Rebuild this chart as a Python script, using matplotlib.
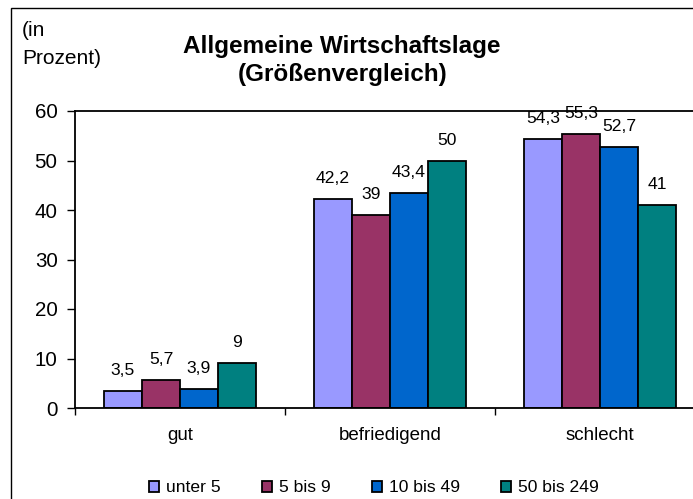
import numpy as np
import matplotlib.pyplot as plt
from matplotlib.patches import Rectangle

plt.rcParams['font.family'] = ['Liberation Sans', 'DejaVu Sans']

# Data
categories = ['gut', 'befriedigend', 'schlecht']
series_names = ['unter 5', '5 bis 9', '10 bis 49', '50 bis 249']
unter_5 = [3.5, 42.2, 54.3]
bis_9 = [5.7, 39, 55.3]
bis_49 = [3.9, 43.4, 52.7]
bis_249 = [9, 50, 41]
values = [unter_5, bis_9, bis_49, bis_249]
colors = ['#9999FF', '#993366', '#0066CC', '#008080']

fig = plt.figure(figsize=(6.93, 4.99), dpi=100)
ax = fig.add_axes([75 / 693, 1 - 408 / 499, 630 / 693, 297 / 499])

# outer chart border (cut off on right and bottom)
fig.patches.append(Rectangle((11 / 693, -0.1), 1.2, 1.1 - 8 / 499,
                             transform=fig.transFigure, fill=False,
                             edgecolor='black', linewidth=1.0))

x = np.arange(len(categories))
width = 0.181
for i, (vals, name, col) in enumerate(zip(values, series_names, colors)):
    pos = x + (i - 1.5) * width
    ax.bar(pos, vals, width, color=col, edgecolor='black', linewidth=1.3,
           label=name)
    for p, v in zip(pos, vals):
        lbl = ('%g' % v).replace('.', ',')
        ax.annotate(lbl, (p, v), xytext=(0, 11.5), textcoords='offset points',
                    ha='center', va='baseline', fontsize=12.6, clip_on=False)

ax.set_xlim(-0.5, 2.5)
ax.set_ylim(0, 60)
ax.set_yticks(range(0, 61, 10))
ax.tick_params(axis='y', direction='out', length=5.5, width=1, pad=7,
               labelsize=14.8)
ax.set_xticks([-0.5, 0.5, 1.5, 2.5])
ax.set_xticklabels([])
ax.tick_params(axis='x', which='major', direction='out', length=5, width=1)
ax.set_xticks(x, minor=True)
ax.set_xticklabels(categories, minor=True)
ax.tick_params(axis='x', which='minor', length=0, pad=14, labelsize=13.5)
for s in ax.spines.values():
    s.set_linewidth(1.3)

fig.text(342 / 693, 1 - 47 / 499, 'Allgemeine Wirtschaftslage',
         ha='center', va='center', fontsize=17.5, fontweight='bold')
fig.text(343 / 693, 1 - 75 / 499, '(Größenvergleich)',
         ha='center', va='center', fontsize=17.5, fontweight='bold')
fig.text(22 / 693, 1 - 30 / 499, '(in', ha='left', va='center', fontsize=15)
fig.text(22 / 693, 1 - 58 / 499, 'Prozent)', ha='left', va='center',
         fontsize=15)

fig.legend(loc='center', bbox_to_anchor=(374 / 693, 1 - 488 / 499), ncol=4,
           frameon=False, fontsize=12.6, handlelength=0.58, handleheight=0.58,
           handletextpad=0.4, columnspacing=2.35, borderaxespad=0,
           borderpad=0)

fig.savefig('out.png', dpi=100)
